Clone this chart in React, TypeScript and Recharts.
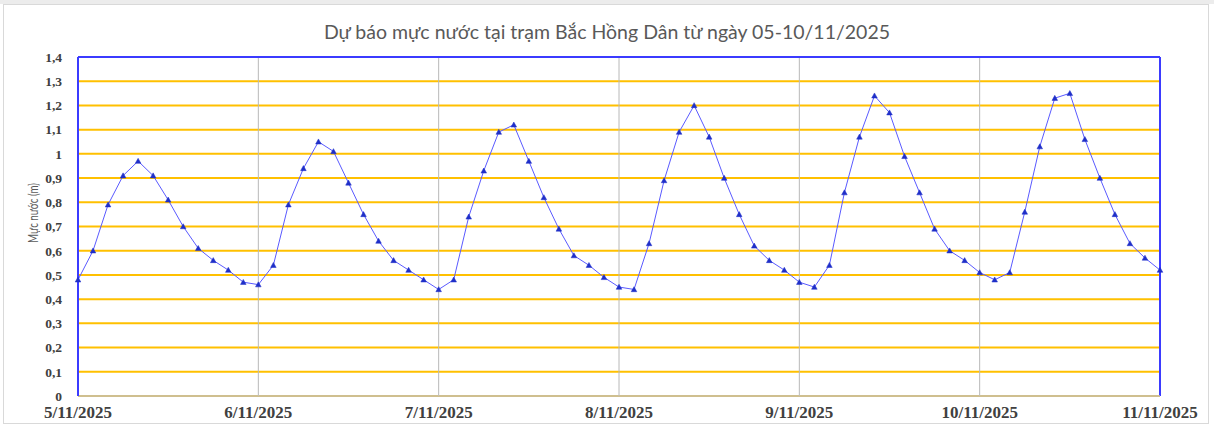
import React from 'react';
import { LineChart, Line, XAxis, YAxis, CartesianGrid, ReferenceLine } from 'recharts';

const title = 'Dự báo mực nước tại trạm Bắc Hồng Dân từ ngày 05-10/11/2025';
const yLabel = 'Mực nước (m)';

// forecast water level every 2 hours, from 05/11/2025 00h to 11/11/2025 00h
const waterLevel: number[] = [
  0.48, 0.60, 0.79, 0.91, 0.97, 0.91, 0.81, 0.70, 0.61, 0.56, 0.52, 0.47,
  0.46, 0.54, 0.79, 0.94, 1.05, 1.01, 0.88, 0.75, 0.64, 0.56, 0.52, 0.48,
  0.44, 0.48, 0.74, 0.93, 1.09, 1.12, 0.97, 0.82, 0.69, 0.58, 0.54, 0.49,
  0.45, 0.44, 0.63, 0.89, 1.09, 1.20, 1.07, 0.90, 0.75, 0.62, 0.56, 0.52,
  0.47, 0.45, 0.54, 0.84, 1.07, 1.24, 1.17, 0.99, 0.84, 0.69, 0.60, 0.56,
  0.51, 0.48, 0.51, 0.76, 1.03, 1.23, 1.25, 1.06, 0.90, 0.75, 0.63, 0.57,
  0.52,
];
const hours: number[] = waterLevel.map((_, i) => i * 2);

const dayTicks: number[] = [0, 24, 48, 72, 96, 120, 144];
const dayLabels: string[] = ['5/11/2025', '6/11/2025', '7/11/2025', '8/11/2025', '9/11/2025', '10/11/2025', '11/11/2025'];
const yTicks: number[] = [0, 0.1, 0.2, 0.3, 0.4, 0.5, 0.6, 0.7, 0.8, 0.9, 1, 1.1, 1.2, 1.3, 1.4];

const data = hours.map((h, i) => ({ h, v: waterLevel[i] }));

const Triangle = (props: any) => {
  const { cx, cy } = props;
  if (cx == null || cy == null) return null;
  const s = 2.8;
  return (
    <path
      d={`M${cx},${cy - s} L${cx + s},${cy + s * 0.8} L${cx - s},${cy + s * 0.8} Z`}
      fill="#1f2fc8"
      stroke="#1f2fc8"
      strokeWidth={0.5}
    />
  );
};

const serifBold = { fontFamily: '"Liberation Serif", "Times New Roman", serif', fontWeight: 700 };

export default function App() {
  return (
    <div style={{ position: 'absolute', left: 0, top: 0, width: 1214, height: 427, background: '#fff' }}>
      <div style={{ position: 'absolute', left: 0, top: 0, width: 1214, height: 4, background: '#ececec' }} />
      <div
        style={{
          position: 'absolute', left: 3, top: 4, width: 1206, height: 420,
          border: '1px solid #d9d9d9', boxSizing: 'border-box',
        }}
      />
      <LineChart
        width={1214}
        height={427}
        data={data}
        margin={{ top: 57, right: 54, bottom: 0, left: 0 }}
        style={{ position: 'absolute', left: 0, top: 0 }}
      >
        <CartesianGrid horizontal vertical={false} stroke="#FFC000" strokeWidth={2} />
        <XAxis
          dataKey="h"
          type="number"
          domain={[0, 144]}
          ticks={dayTicks}
          tickFormatter={(v: number) => dayLabels[dayTicks.indexOf(v)] ?? ''}
          interval={0}
          tickLine={false}
          axisLine={{ stroke: '#bfbfbf', strokeWidth: 1.5 }}
          height={31}
          tick={{ ...serifBold, fontSize: 17, fill: '#404040' }}
          tickMargin={4}
        />
        <YAxis
          type="number"
          domain={[0, 1.4]}
          ticks={yTicks}
          interval={0}
          tickFormatter={(v: number) => String(Math.round(v * 10) / 10).replace('.', ',')}
          tickLine={false}
          axisLine={{ stroke: '#3b3bff', strokeWidth: 2 }}
          width={78}
          tick={{ ...serifBold, fontSize: 13.5, fill: '#404040' }}
          tickMargin={10}
        />
        {dayTicks.slice(1, -1).map((t) => (
          <ReferenceLine key={t} x={t} stroke="#b8b8b8" strokeWidth={1} />
        ))}
        <ReferenceLine y={1.4} stroke="#3b3bff" strokeWidth={2} />
        <ReferenceLine x={144} stroke="#3b3bff" strokeWidth={2} />
        <Line
          type="linear"
          dataKey="v"
          stroke="#5a5aff"
          strokeWidth={1}
          dot={<Triangle />}
          activeDot={false}
          isAnimationActive={false}
        />
      </LineChart>
      <div
        style={{
          position: 'absolute', left: 0, top: 20, width: 1214, textAlign: 'center',
          fontFamily: 'Lato, "Open Sans", sans-serif', fontSize: 19.5, color: '#595959',
        }}
      >
        {title}
      </div>
      <div
        style={{
          position: 'absolute', left: 33, top: 213, width: 0, height: 0,
        }}
      >
        <div
          style={{
            position: 'absolute', left: 0, top: 0, transform: 'translate(-50%, -50%) rotate(-90deg) scale(0.78, 1)',
            whiteSpace: 'nowrap', fontFamily: 'Lato, "Open Sans", sans-serif', fontSize: 12.5, color: '#595959',
          }}
        >
          {yLabel}
        </div>
      </div>
    </div>
  );
}
